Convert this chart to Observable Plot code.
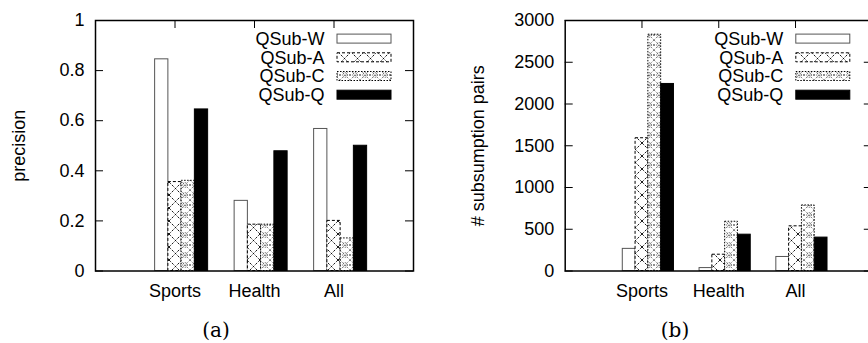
<!DOCTYPE html>
<html><head><meta charset="utf-8">
<script src="https://cdn.jsdelivr.net/npm/d3@7"></script>
<script src="https://cdn.jsdelivr.net/npm/@observablehq/plot@0.6"></script>
<style>
html,body{margin:0;padding:0;background:#fff;overflow:hidden;}
#root{position:relative;width:868px;height:343px;overflow:hidden;font-family:"Liberation Sans",Arial,sans-serif;background:#fff;}
.panel{position:absolute;top:0;}
.cap{position:absolute;font-family:"DejaVu Serif",serif;font-size:20px;transform:translate(-50%,-50%);white-space:nowrap;}
</style></head><body>
<svg width="0" height="0" style="position:absolute">
<defs>
<pattern id="patA" patternUnits="userSpaceOnUse" width="13" height="13">
  <rect width="13" height="13" fill="white"/>
  <path d="M0,0L13,13M13,0L0,13" stroke="black" stroke-width="0.9" stroke-dasharray="2.5,1.5" fill="none"/>
</pattern>
<pattern id="patC" patternUnits="userSpaceOnUse" width="10" height="10">
  <rect width="10" height="10" fill="white"/>
  <path d="M0,0L10,10M10,0L0,10" stroke="black" stroke-width="0.7" stroke-dasharray="1,1.5" fill="none"/>
  <circle cx="5" cy="5" r="2.3" fill="none" stroke="black" stroke-width="0.7" stroke-dasharray="1,1"/>
  <circle cx="0" cy="5" r="0.8" fill="black"/>
  <circle cx="10" cy="5" r="0.8" fill="black"/>
</pattern>
</defs></svg>
<div id="root"></div>
<script>
const categories = ["Sports", "Health", "All"];
const series = ["QSub-W", "QSub-A", "QSub-C", "QSub-Q"];
const precisionW = [0.845, 0.28, 0.567];
const precisionA = [0.355, 0.185, 0.2];
const precisionC = [0.36, 0.185, 0.13];
const precisionQ = [0.645, 0.478, 0.5];
const pairsW = [265, 35, 168];
const pairsA = [1590, 195, 535];
const pairsC = [2830, 590, 785];
const pairsQ = [2240, 435, 400];
const precisionTicks = [0, 0.2, 0.4, 0.6, 0.8, 1];
const pairsTicks = [0, 500, 1000, 1500, 2000, 2500, 3000];

const styles = [
  {fill: "white", stroke: "#555", strokeWidth: 1},
  {fill: "url(#patA)", stroke: "black", strokeWidth: 1, strokeDasharray: "3,2"},
  {fill: "url(#patC)", stroke: "black", strokeWidth: 1, strokeDasharray: "1.5,1.5"},
  {fill: "black", stroke: "black", strokeWidth: 1}
];
const catIdx = categories.map((_, i) => i);
const root = document.getElementById("root");

function panel({values, ticks, yMax, title, left, width, marginLeft, marginRight, titleDx, caption, captionX}) {
  const data = [];
  values.forEach((arr, si) => arr.forEach((v, ci) => data.push({si, ci, v})));
  const h = 300, mt = 20, mb = 29.5;
  const plotW = width - marginLeft - marginRight, plotH = h - mt - mb;
  const chart = Plot.plot({
    width, height: h, marginLeft, marginRight, marginTop: mt, marginBottom: mb,
    style: {fontFamily: '"Liberation Sans", Arial, sans-serif', fontSize: "18px", color: "black", background: "white", overflow: "visible"},
    x: {type: "linear", domain: [-1, 3], axis: null},
    y: {domain: [0, yMax], axis: null},
    marks: [
      Plot.tickY(ticks, {y: d => d, insetRight: plotW - 8, stroke: "black", strokeWidth: 1}),
      Plot.tickY(ticks, {y: d => d, insetLeft: plotW - 8, stroke: "black", strokeWidth: 1}),
      Plot.tickX(catIdx, {x: d => d, insetBottom: plotH - 8, stroke: "black", strokeWidth: 1}),
      Plot.tickX(catIdx, {x: d => d, insetTop: plotH - 8, stroke: "black", strokeWidth: 1}),
      ...series.map((s, si) => Plot.rect(data.filter(d => d.si === si), {
        x1: d => d.ci + (si - 1.5) / 6, x2: d => d.ci + (si - 0.5) / 6,
        y1: 0, y2: "v", ...styles[si]
      })),
      Plot.axisY(ticks, {anchor: "left", tickSize: 0, tickPadding: 11, fontSize: 18, label: null, tickFormat: d => `${d}`}),
      Plot.axisX(catIdx, {anchor: "bottom", tickSize: 0, tickPadding: 13, fontSize: 18, label: null, tickFormat: i => categories[i]}),
      Plot.text([title], {frameAnchor: "left", dx: titleDx, rotate: -90, fontSize: 18, textAnchor: "middle", lineAnchor: "middle"}),
      Plot.frame({stroke: "black", strokeWidth: 1.5})
    ]
  });
  chart.classList.add("panel");
  chart.style.left = left + "px";
  root.appendChild(chart);

  // legend (top-right inside frame)
  const svg = d3.select(chart);
  const frameRight = width - marginRight;
  const textRight = frameRight - 88.5;
  const g = svg.append("g").attr("font-size", 18).attr("font-family", '"Liberation Sans", Arial, sans-serif');
  series.forEach((s, i) => {
    const cy = 38.6 + 18.7 * i;
    g.append("text").attr("x", textRight).attr("y", cy).attr("dy", "0.36em")
      .attr("text-anchor", "end").attr("fill", "black").text(s);
    const st = styles[i];
    g.append("rect").attr("x", textRight + 12.5).attr("y", cy - 4.5)
      .attr("width", 54).attr("height", 9)
      .attr("fill", st.fill).attr("stroke", st.stroke).attr("stroke-width", st.strokeWidth)
      .attr("stroke-dasharray", st.strokeDasharray || null);
  });

  const cap = document.createElement("div");
  cap.className = "cap";
  cap.style.left = captionX + "px";
  cap.style.top = "330px";
  cap.textContent = caption;
  root.appendChild(cap);
}

panel({values: [precisionW, precisionA, precisionC, precisionQ], ticks: precisionTicks, yMax: 1,
  title: "precision", left: 0, width: 434, marginLeft: 95, marginRight: 21, titleDx: -76,
  caption: "(a)", captionX: 216});
panel({values: [pairsW, pairsA, pairsC, pairsQ], ticks: pairsTicks, yMax: 3000,
  title: "# subsumption pairs", left: 434, width: 440, marginLeft: 130.7, marginRight: 2.2, titleDx: -87.4,
  caption: "(b)", captionX: 675});
</script>
</body></html>
